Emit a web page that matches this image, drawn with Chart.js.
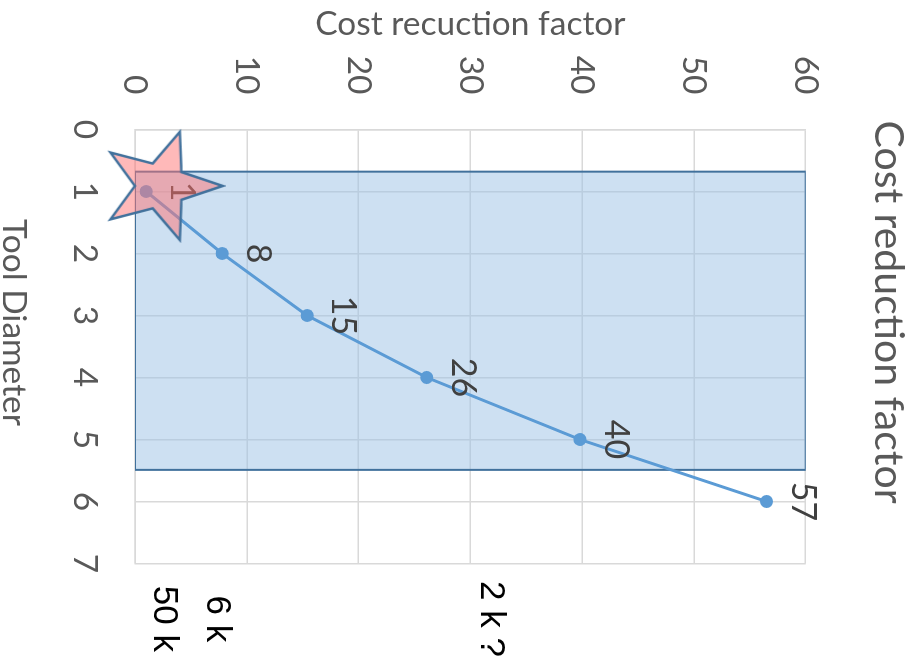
<!DOCTYPE html>
<html>
<head>
<meta charset="utf-8">
<script src="https://cdn.jsdelivr.net/npm/chart.js@4/dist/chart.umd.min.js"></script>
<style>
  html, body { margin: 0; padding: 0; overflow: hidden; background: #ffffff; width: 921px; height: 669px; }
  #wrap { position: absolute; left: 0; top: 0; width: 669px; height: 921px;
          transform-origin: 0 0; transform: translate(921px, 0) rotate(90deg); }
</style>
</head>
<body>
<div id="wrap"><canvas id="c" width="669" height="921"></canvas></div>
<script>
// ---- data ----
const diameters = [1, 2, 3, 4, 5, 6];
const costFactors = [1, 7.8, 15.4, 26.1, 39.8, 56.5];
const rangeDiameter = [0.68, 5.49];
const rangeCost = [0, 60];
const starDiameter = 0.91;
const starCost = 2.3;
const sideLabels = ['50 k', '6 k', '2 k ?'];
const sideLabelValues = [2.6, 7.3, 31.8];
const chartTitle = 'Cost reduction factor';
const xTitle = 'Tool Diameter';
const yTitle = 'Cost recuction factor';

// ---- styles ----
const FONT = 'Lato';
const GRAY = '#595959';
const GRID = '#d9d9d9';

// star image used as point style
function makeStar() {
  const c = document.createElement('canvas');
  c.width = 118; c.height = 130;
  const g = c.getContext('2d');
  const cx = 59, cy = 65, a = 62, b = 56.8, inner = 0.415;
  g.beginPath();
  for (let k = 0; k < 10; k++) {
    const th = -Math.PI / 2 + k * Math.PI / 5;
    const r = (k % 2 === 0) ? 1 : inner;
    const x = cx + b * r * Math.cos(th);
    const y = cy + a * r * Math.sin(th);
    if (k === 0) g.moveTo(x, y); else g.lineTo(x, y);
  }
  g.closePath();
  g.fillStyle = 'rgba(255,115,115,0.5)';
  g.fill();
  g.lineWidth = 2.5;
  g.strokeStyle = '#41719c';
  g.lineJoin = 'miter';
  g.stroke();
  return c;
}

const linePts = diameters.map((d, i) => ({x: d, y: costFactors[i]}));
const rectPts = [
  {x: rangeDiameter[0], y: rangeCost[0]},
  {x: rangeDiameter[0], y: rangeCost[1]},
  {x: rangeDiameter[1], y: rangeCost[1]},
  {x: rangeDiameter[1], y: rangeCost[0]},
  {x: rangeDiameter[0], y: rangeCost[0]}
];

const labelPlugin = {
  id: 'labels',
  afterDatasetDraw(chart, args) {
    if (args.index !== 1) return;
    const ctx = chart.ctx;
    ctx.save();
    ctx.font = '34px ' + FONT;
    ctx.fillStyle = '#404040';
    ctx.textAlign = 'center';
    ctx.textBaseline = 'alphabetic';
    args.meta.data.forEach((pt, i) => {
      ctx.fillText(String(Math.round(costFactors[i])), pt.x, pt.y - 25);
    });
    ctx.restore();
  },
  afterDraw(chart) {
    const ctx = chart.ctx;
    ctx.save();
    ctx.fillStyle = GRAY;
    ctx.textAlign = 'center';
    ctx.textBaseline = 'alphabetic';
    ctx.font = '33.5px ' + FONT;
    ctx.fillText(xTitle, 322.5, 918);
    ctx.textBaseline = 'middle';
    ctx.font = '41px ' + FONT;
    ctx.fillText(chartTitle, 312, 33);
    ctx.restore();
  }
};

new Chart(document.getElementById('c'), {
  type: 'scatter',
  data: {
    datasets: [
      {
        data: [{x: starDiameter, y: starCost}],
        pointStyle: makeStar(),
        clip: false,
        order: 0
      },
      {
        data: linePts,
        showLine: true,
        borderColor: '#5b9bd5',
        borderWidth: 3,
        pointRadius: 6.5,
        pointBackgroundColor: '#5b9bd5',
        pointBorderWidth: 0,
        order: 1
      },
      {
        data: rectPts,
        showLine: true,
        fill: 'shape',
        backgroundColor: 'rgba(155,194,230,0.5)',
        borderColor: '#41719c',
        borderWidth: 2,
        pointRadius: 0,
        order: 2
      }
    ]
  },
  options: {
    responsive: false,
    animation: false,
    events: [],
    devicePixelRatio: 1,
    layout: { padding: { top: 115.3, left: 0, right: 0, bottom: 0 } },
    plugins: {
      legend: { display: false },
      tooltip: { enabled: false },
      title: { display: false }
    },
    scales: {
      x: {
        type: 'linear',
        min: 0, max: 7,
        ticks: { stepSize: 1, color: GRAY, font: { family: FONT, size: 33.5 }, padding: 30, maxRotation: 0 },
        grid: { color: GRID, lineWidth: 1.5, drawTicks: false },
        border: { color: GRID, width: 1.5 },
        afterFit(s) { s.height = 135; }
      },
      y: {
        type: 'linear',
        position: 'left',
        min: 0, max: 60,
        ticks: { stepSize: 10, color: GRAY, font: { family: FONT, size: 33.5 }, padding: 35 },
        grid: { color: GRID, lineWidth: 1.5, drawTicks: false },
        border: { color: GRID, width: 1.5 },
        title: { display: true, text: yTitle, color: GRAY, font: { family: FONT, size: 33.5 }, padding: { top: 4, bottom: 0 } },
        afterFit(s) { s.width = 129.5; }
      },
      y2: {
        type: 'linear',
        position: 'right',
        min: 0, max: 60,
        afterBuildTicks(s) { s.ticks = sideLabelValues.map(v => ({ value: v })); },
        ticks: {
          color: '#000000',
          font: { family: 'Liberation Sans', size: 35 },
          padding: 17.5,
          crossAlign: 'center',
          callback: (v, i) => sideLabels[i]
        },
        grid: { display: false, drawTicks: false },
        border: { display: false },
        afterFit(s) { s.width = 105.5; }
      }
    }
  },
  plugins: [labelPlugin]
});
</script>
</body>
</html>
